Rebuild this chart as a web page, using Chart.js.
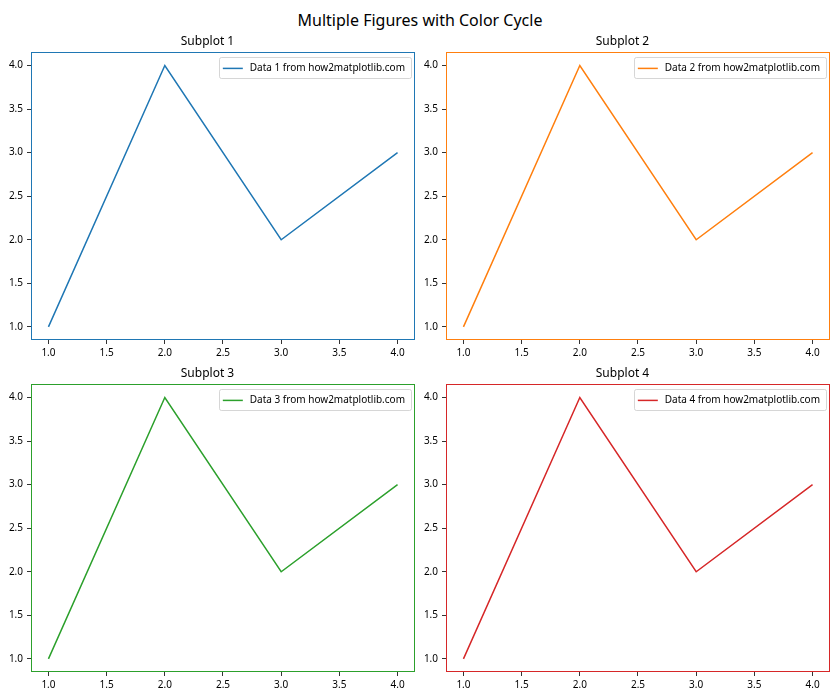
<!DOCTYPE html>
<html>
<head>
<meta charset="utf-8">
<script src="https://cdn.jsdelivr.net/npm/chart.js@4"></script>
<style>
  html, body { margin: 0; padding: 0; background: #fff; }
  #wrap { position: relative; width: 840px; height: 700px; overflow: hidden; }
  #suptitle { position: absolute; left: 0; top: 9px; width: 840px; text-align: center;
    font-family: "Noto Sans", sans-serif; font-size: 16px; line-height: 22px; color: #000; }
  canvas { position: absolute; }
</style>
</head>
<body>
<div id="wrap">
  <div id="suptitle">Multiple Figures with Color Cycle</div>
  <canvas id="c1" width="420" height="332" style="left:0px;top:30px"></canvas>
  <canvas id="c2" width="420" height="332" style="left:415px;top:30px"></canvas>
  <canvas id="c3" width="420" height="332" style="left:0px;top:362px"></canvas>
  <canvas id="c4" width="420" height="332" style="left:415px;top:362px"></canvas>
</div>
<script>
// ---- data ----
const xValues = [1, 2, 3, 4];
const series1 = [1, 4, 2, 3];
const series2 = [1, 4, 2, 3];
const series3 = [1, 4, 2, 3];
const series4 = [1, 4, 2, 3];
const seriesLabels = [
  'Data 1 from how2matplotlib.com',
  'Data 2 from how2matplotlib.com',
  'Data 3 from how2matplotlib.com',
  'Data 4 from how2matplotlib.com'
];
const subplotTitles = ['Subplot 1', 'Subplot 2', 'Subplot 3', 'Subplot 4'];
const xTickValues = [1.0, 1.5, 2.0, 2.5, 3.0, 3.5, 4.0];
const yTickValues = [1.0, 1.5, 2.0, 2.5, 3.0, 3.5, 4.0];

// ---- styles ----
const colors = ['#1f77b4', '#ff7f0e', '#2ca02c', '#d62728'];
const FONT = '"Noto Sans", sans-serif';
Chart.defaults.font.family = FONT;
Chart.defaults.color = '#000';

const frameAndLegend = {
  id: 'frameAndLegend',
  afterDatasetsDraw(chart, args, opts) {
    const ctx = chart.ctx;
    const a = chart.chartArea;
    ctx.save();
    // axes frame (spines)
    ctx.strokeStyle = opts.color;
    ctx.lineWidth = 1;
    const l = Math.round(a.left) + 0.5, t = Math.round(a.top) + 0.5;
    const r = Math.round(a.right) - 0.5, b = Math.round(a.bottom) - 0.5;
    ctx.strokeRect(l, t, r - l, b - t);
    // legend
    const ds = chart.data.datasets[0];
    ctx.font = '10px ' + FONT;
    const tw = ctx.measureText(ds.label).width;
    const pad = 4, handle = 20, gap = 7;
    const w = pad + handle + gap + tw + 6;
    const h = 21;
    const bx = a.right - 4 - w, by = a.top + 5;
    ctx.fillStyle = 'rgba(255,255,255,0.8)';
    ctx.strokeStyle = 'rgba(204,204,204,0.8)';
    ctx.lineWidth = 1;
    ctx.beginPath();
    ctx.roundRect(Math.round(bx) + 0.5, Math.round(by) + 0.5, Math.round(w), h, 2);
    ctx.fill();
    ctx.stroke();
    const cy = by + h / 2 + 0.5;
    ctx.strokeStyle = ds.borderColor;
    ctx.lineWidth = 1.5;
    ctx.beginPath();
    ctx.moveTo(bx + pad, cy);
    ctx.lineTo(bx + pad + handle, cy);
    ctx.stroke();
    ctx.fillStyle = '#000';
    ctx.textBaseline = 'middle';
    ctx.textAlign = 'left';
    ctx.fillText(ds.label, bx + pad + handle + gap, cy);
    ctx.restore();
  }
};

const allSeries = [series1, series2, series3, series4];

function makeChart(id, idx) {
  const ys = allSeries[idx];
  return new Chart(document.getElementById(id), {
    type: 'line',
    data: {
      datasets: [{
        label: seriesLabels[idx],
        data: xValues.map((x, i) => ({ x: x, y: ys[i] })),
        borderColor: colors[idx],
        borderWidth: 1.5,
        pointRadius: 0,
        tension: 0,
        fill: false
      }]
    },
    options: {
      responsive: false,
      animation: false,
      devicePixelRatio: 1,
      layout: { padding: { left: 0, right: 5, top: 0, bottom: 0 } },
      plugins: {
        legend: { display: false },
        tooltip: { enabled: false },
        title: {
          display: true,
          text: subplotTitles[idx],
          color: '#000',
          font: { size: 12, weight: 'normal', family: FONT },
          padding: { top: 4, bottom: 4 }
        },
        frameAndLegend: { color: colors[idx] }
      },
      scales: {
        x: {
          type: 'linear',
          min: 0.85,
          max: 4.15,
          afterBuildTicks: s => { s.ticks = xTickValues.map(v => ({ value: v })); },
          afterFit: s => { s.height = 22; },
          ticks: {
            callback: v => Number(v).toFixed(1),
            font: { size: 10 },
            color: '#000',
            padding: 3,
            maxRotation: 0,
            autoSkip: false
          },
          grid: { drawOnChartArea: false, drawTicks: true, tickLength: 4, color: '#333', lineWidth: 1 },
          border: { display: false }
        },
        y: {
          type: 'linear',
          min: 0.85,
          max: 4.15,
          afterBuildTicks: s => { s.ticks = yTickValues.map(v => ({ value: v })); },
          afterFit: s => { s.width = 31; },
          ticks: {
            callback: v => Number(v).toFixed(1),
            font: { size: 10 },
            color: '#000',
            padding: 4,
            autoSkip: false
          },
          grid: { drawOnChartArea: false, drawTicks: true, tickLength: 4, color: '#333', lineWidth: 1 },
          border: { display: false }
        }
      }
    },
    plugins: [frameAndLegend]
  });
}

makeChart('c1', 0);
makeChart('c2', 1);
makeChart('c3', 2);
makeChart('c4', 3);
</script>
</body>
</html>
